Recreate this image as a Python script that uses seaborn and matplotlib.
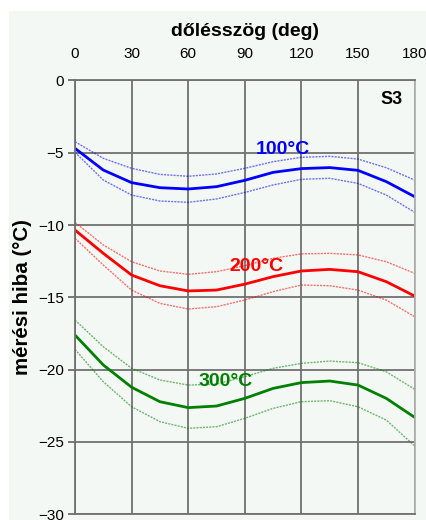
import pandas as pd
import matplotlib.pyplot as plt
import seaborn as sns
from matplotlib.patches import Rectangle

# dőlésszög (deg)
angle = [0, 15, 30, 45, 60, 75, 90, 105, 120, 135, 150, 165, 180]

# 100°C
t100_mid = [-4.70, -6.20, -7.07, -7.42, -7.51, -7.35, -6.91, -6.36, -6.10, -6.03, -6.22, -7.00, -8.04]
t100_hi = [-4.24, -5.39, -6.08, -6.50, -6.63, -6.47, -6.08, -5.62, -5.32, -5.25, -5.44, -6.04, -6.89]
t100_lo = [-4.97, -6.89, -7.93, -8.34, -8.43, -8.20, -7.75, -7.23, -6.84, -6.77, -7.12, -7.93, -9.12]

# 200°C
t200_mid = [-10.35, -11.96, -13.46, -14.20, -14.56, -14.50, -14.09, -13.57, -13.18, -13.07, -13.23, -13.92, -14.91]
t200_hi = [-9.82, -11.38, -12.54, -13.18, -13.41, -13.23, -12.81, -12.30, -12.00, -11.96, -12.07, -12.54, -13.34]
t200_lo = [-10.92, -12.77, -14.50, -15.42, -15.81, -15.65, -15.19, -14.61, -14.15, -14.20, -14.50, -15.19, -16.34]

# 300°C
t300_mid = [-17.61, -19.68, -21.22, -22.22, -22.63, -22.52, -21.99, -21.30, -20.90, -20.79, -21.07, -21.99, -23.30]
t300_hi = [-16.57, -18.42, -19.91, -20.72, -21.07, -21.00, -20.49, -19.91, -19.57, -19.41, -19.52, -20.15, -21.36]
t300_lo = [-18.60, -20.84, -22.57, -23.60, -24.06, -23.95, -23.37, -22.68, -22.22, -22.15, -22.57, -23.49, -25.28]

series = [
    ('100°C', '#0000ff', t100_mid, t100_hi, t100_lo, 110, -4.8),
    ('200°C', '#ff0000', t200_mid, t200_hi, t200_lo, 96, -12.9),
    ('300°C', '#008000', t300_mid, t300_hi, t300_lo, 80, -20.85),
]

bg = '#f4f8f5'
plt.rcParams['font.family'] = ['Liberation Sans', 'DejaVu Sans']

fig = plt.figure(figsize=(4.26, 5.2), dpi=100, facecolor='white')
fig.patches.append(Rectangle((9 / 426, 0), 1, 1 - 11 / 520, transform=fig.transFigure,
                             facecolor=bg, edgecolor='none', zorder=-10))
ax = fig.add_axes([75 / 426, 1 - 514.2 / 520, 339.6 / 426, 433.8 / 520])
ax.set_facecolor(bg)

for name, col, mid, hi, lo, lx, ly in series:
    df = pd.DataFrame({'angle': angle, 'mid': mid, 'hi': hi, 'lo': lo})
    sns.lineplot(data=df, x='angle', y='hi', ax=ax, color=col, lw=1.0, alpha=0.55,
                 linestyle=(0, (1.5, 0.8)))
    sns.lineplot(data=df, x='angle', y='lo', ax=ax, color=col, lw=1.0, alpha=0.55,
                 linestyle=(0, (1.5, 0.8)))
    sns.lineplot(data=df, x='angle', y='mid', ax=ax, color=col, lw=2.0,
                 solid_joinstyle='round')
    ax.text(lx, ly, name, color=col, fontsize=14, fontweight='bold', ha='center', va='center')

ax.text(168, -1.35, 'S3', fontsize=13, fontweight='bold', ha='center', va='center')

ax.set_xlim(0, 180)
ax.set_ylim(-30, 0)
ax.set_xticks(range(0, 181, 30))
ax.set_yticks(range(-30, 1, 5))
ax.xaxis.tick_top()
ax.xaxis.set_label_position('top')
ax.tick_params(axis='x', length=0, pad=14, labelsize=11)
ax.tick_params(axis='y', length=5, width=1.2, color='#606060', labelsize=11, pad=3)
ax.grid(True, color='#707070', lw=1.3)
ax.set_axisbelow(True)
for s in ax.spines.values():
    s.set_color('#707070')
    s.set_linewidth(1.3)
ax.spines['right'].set_color('#b0b0b0')

ax.set_xlabel('dőlésszög (deg)', fontsize=14, fontweight='bold', labelpad=8)
ax.set_ylabel('mérési hiba (°C)', fontsize=14.8, fontweight='bold', labelpad=4)

plt.savefig('out.png', dpi=100, facecolor='white')
